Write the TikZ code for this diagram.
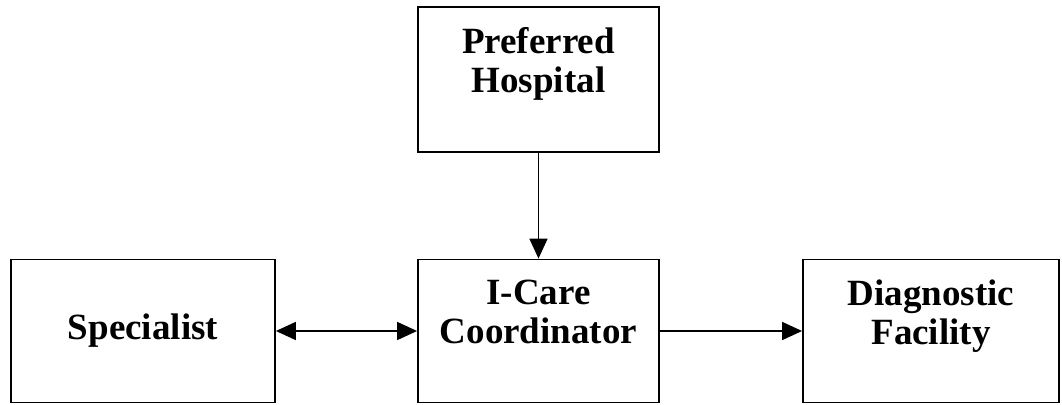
\documentclass[tikz,border=0pt]{standalone}
\usepackage{fontspec}
\setmainfont{Liberation Serif}
\usetikzlibrary{arrows.meta}

\tikzset{
  unit/.style={draw,line width=1.8pt,inner sep=0pt,font=\fontsize{37}{39}\selectfont\bfseries},
  twoline/.style={anchor=north,yshift=-21.5pt,inner sep=0pt,align=center,font=\fontsize{37}{39}\selectfont\bfseries}
}

\begin{document}
\begin{tikzpicture}[x=1pt,y=-1pt,>={Triangle[length=20pt,width=18pt]}]
  \useasboundingbox (0,0) rectangle (1062,404);
  \node[unit,minimum width=241pt,minimum height=145pt,
    label={[twoline]north:{Preferred\\Hospital}}] (hosp) at (538.5,79.5) {};
  \node[unit,minimum width=241pt,minimum height=143pt,
    label={[twoline]north:{I-Care\\Coordinator}}] (coord) at (538.5,331) {};
  \node[unit,minimum width=264pt,minimum height=143pt] (spec) at (143,331) {Specialist};
  \node[unit,minimum width=256pt,minimum height=143pt,
    label={[twoline]north:{Diagnostic\\Facility}}] (diag) at (931,331) {};
  \draw[line width=1.6pt,->] (hosp) -- (coord);
  \draw[line width=1.6pt,<->] (spec) -- (coord);
  \draw[line width=1.6pt,->] (coord) -- (diag);
\end{tikzpicture}
\end{document}
